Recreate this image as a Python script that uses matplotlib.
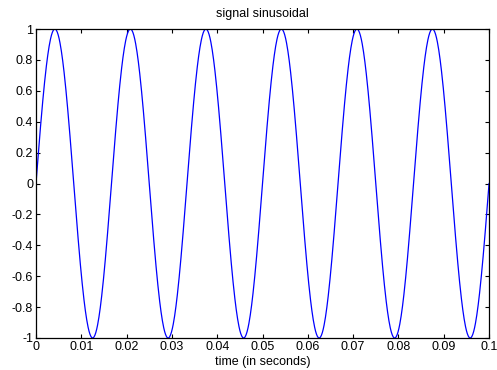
import matplotlib

matplotlib.use("Agg")
import matplotlib.pyplot as plt
import numpy as np

# signal parameters (MATLAB-style sine: 60 Hz, 0.1 s long)
FREQ_HZ = 60.0
AMPLITUDE = 1.0
SAMPLE_RATE = 10000.0
DURATION = 0.1

X_TICKS = [0, 0.01, 0.02, 0.03, 0.04, 0.05, 0.06, 0.07, 0.08, 0.09, 0.1]
X_TICK_LABELS = ["0", "0.01", "0.02", "0.03", "0.04", "0.05", "0.06", "0.07", "0.08", "0.09", "0.1"]
Y_TICKS = [-1, -0.8, -0.6, -0.4, -0.2, 0, 0.2, 0.4, 0.6, 0.8, 1]
Y_TICK_LABELS = ["-1", "-0.8", "-0.6", "-0.4", "-0.2", "0", "0.2", "0.4", "0.6", "0.8", "1"]

plt.rcParams["font.family"] = ["Liberation Sans", "DejaVu Sans"]

t = np.arange(0, DURATION + 1e-9, 1 / SAMPLE_RATE)
signal = AMPLITUDE * np.sin(2 * np.pi * FREQ_HZ * t)

fig = plt.figure(figsize=(4.97, 3.70), dpi=100)
ax = fig.add_axes([0.0724, 0.0865, 0.9116, 0.8351])
ax.plot(t, signal, color="#0000ff", linewidth=0.9)

ax.set_xlim(0, 0.1)
ax.set_ylim(-1, 1)
ax.set_xticks(X_TICKS)
ax.set_xticklabels(X_TICK_LABELS)
ax.set_yticks(Y_TICKS)
ax.set_yticklabels(Y_TICK_LABELS)
ax.tick_params(direction="in", top=True, right=True, length=3, width=0.8,
               labelsize=9, pad=2)
for spine in ax.spines.values():
    spine.set_linewidth(0.9)

ax.set_title("signal sinusoidal", fontsize=9, pad=9)
ax.set_xlabel("time (in seconds)", fontsize=9, labelpad=2)

fig.savefig("out.png", dpi=100)
